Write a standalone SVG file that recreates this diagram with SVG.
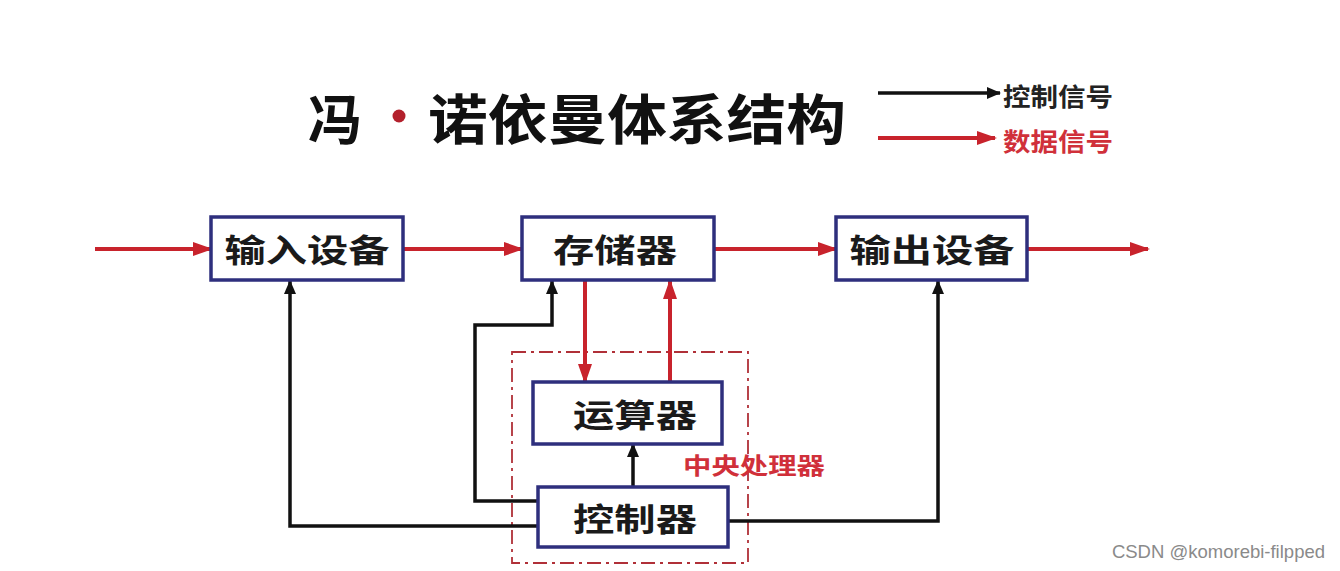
<svg xmlns="http://www.w3.org/2000/svg" width="1340" height="571" viewBox="0 0 1340 571">
<style>
.box{fill:#fff;stroke:#2e2f7d;stroke-width:3.5}
.lbl{font-family:"Noto Sans CJK SC","Noto Sans",sans-serif;font-weight:bold;font-size:32px;fill:#1a1a1a;text-anchor:middle;dominant-baseline:central}
.red{fill:none;stroke:#c8232c;stroke-width:4}
.blk{fill:none;stroke:#111;stroke-width:3.5}
</style>
<defs>
<marker id="ar" markerUnits="userSpaceOnUse" markerWidth="20" markerHeight="14" refX="18" refY="7" orient="auto"><path d="M0,0 L20,7 L0,14 Z" fill="#c8232c"/></marker>
<marker id="ab" markerUnits="userSpaceOnUse" markerWidth="14" markerHeight="12" refX="13" refY="6" orient="auto"><path d="M0,0 L14,6 L0,12 Z" fill="#111"/></marker>
</defs>
<rect width="1340" height="571" fill="#fff"/>
<g id="title">
<text x="308" y="116" font-family="'Noto Sans CJK SC',sans-serif" font-weight="bold" font-size="54" fill="#111" dominant-baseline="central">冯</text>
<circle cx="399" cy="116" r="6.5" fill="#b3202c"/>
<text x="428" y="116" font-family="'Noto Sans CJK SC',sans-serif" font-weight="bold" font-size="54" fill="#111" dominant-baseline="central" textLength="418" lengthAdjust="spacingAndGlyphs">诺依曼体系结构</text>
</g>
<g id="legend">
<line x1="878" y1="93" x2="1000" y2="93" class="blk" stroke-width="5" marker-end="url(#ab)"/>
<text x="1003" y="95" font-family="'Noto Sans CJK SC',sans-serif" font-weight="bold" font-size="25" fill="#222" dominant-baseline="central" textLength="110" lengthAdjust="spacingAndGlyphs">控制信号</text>
<line x1="878" y1="138" x2="995" y2="138" class="red" stroke-width="5" marker-end="url(#ar)"/>
<text x="1003" y="140" font-family="'Noto Sans CJK SC',sans-serif" font-weight="bold" font-size="25" fill="#d0303a" dominant-baseline="central" textLength="110" lengthAdjust="spacingAndGlyphs">数据信号</text>
</g>
<g id="cpu">
<rect x="512" y="352" width="236" height="211" fill="none" stroke="#b03038" stroke-width="1.8" stroke-dasharray="14,5,3,5"/>
<text x="754" y="464" font-family="'Noto Sans CJK SC',sans-serif" font-weight="bold" font-size="23" fill="#d0303a" text-anchor="middle" dominant-baseline="central" textLength="142" lengthAdjust="spacingAndGlyphs">中央处理器</text>
</g>
<g id="connectors">
<line x1="95" y1="249" x2="211" y2="249" class="red" marker-end="url(#ar)"/>
<line x1="403" y1="249" x2="522" y2="249" class="red" marker-end="url(#ar)"/>
<line x1="714" y1="249" x2="836" y2="249" class="red" marker-end="url(#ar)"/>
<line x1="1027" y1="249" x2="1148" y2="249" class="red" marker-end="url(#ar)"/>
<line x1="585" y1="281" x2="585" y2="382" class="red" marker-end="url(#ar)"/>
<line x1="670" y1="382" x2="670" y2="281" class="red" marker-end="url(#ar)"/>
<polyline points="538,501 475,501 475,325 552,325 552,281" class="blk" marker-end="url(#ab)"/>
<line x1="633" y1="487" x2="633" y2="444" class="blk" marker-end="url(#ab)"/>
<polyline points="538,526 290,526 290,281" class="blk" marker-end="url(#ab)"/>
<polyline points="728,521 938,521 938,281" class="blk" marker-end="url(#ab)"/>
</g>
<g id="input"><rect x="211" y="217" width="192" height="63" class="box"/><text x="307" y="248" class="lbl" textLength="165" lengthAdjust="spacingAndGlyphs">输入设备</text></g>
<g id="memory"><rect x="522" y="217" width="192" height="63" class="box"/><text x="615" y="248" class="lbl" textLength="124" lengthAdjust="spacingAndGlyphs">存储器</text></g>
<g id="output"><rect x="836" y="217" width="191" height="63" class="box"/><text x="932" y="248" class="lbl" textLength="165" lengthAdjust="spacingAndGlyphs">输出设备</text></g>
<g id="alu"><rect x="533" y="382" width="189" height="62" class="box"/><text x="635" y="413" class="lbl" textLength="124" lengthAdjust="spacingAndGlyphs">运算器</text></g>
<g id="control"><rect x="538" y="487" width="190" height="60" class="box"/><text x="635" y="517" class="lbl" textLength="124" lengthAdjust="spacingAndGlyphs">控制器</text></g>
<text x="1325" y="551" font-family="'Liberation Sans',Arial,sans-serif" font-size="18.5" fill="#8a8a8a" text-anchor="end" dominant-baseline="central">CSDN @komorebi-filpped</text>
</svg>
